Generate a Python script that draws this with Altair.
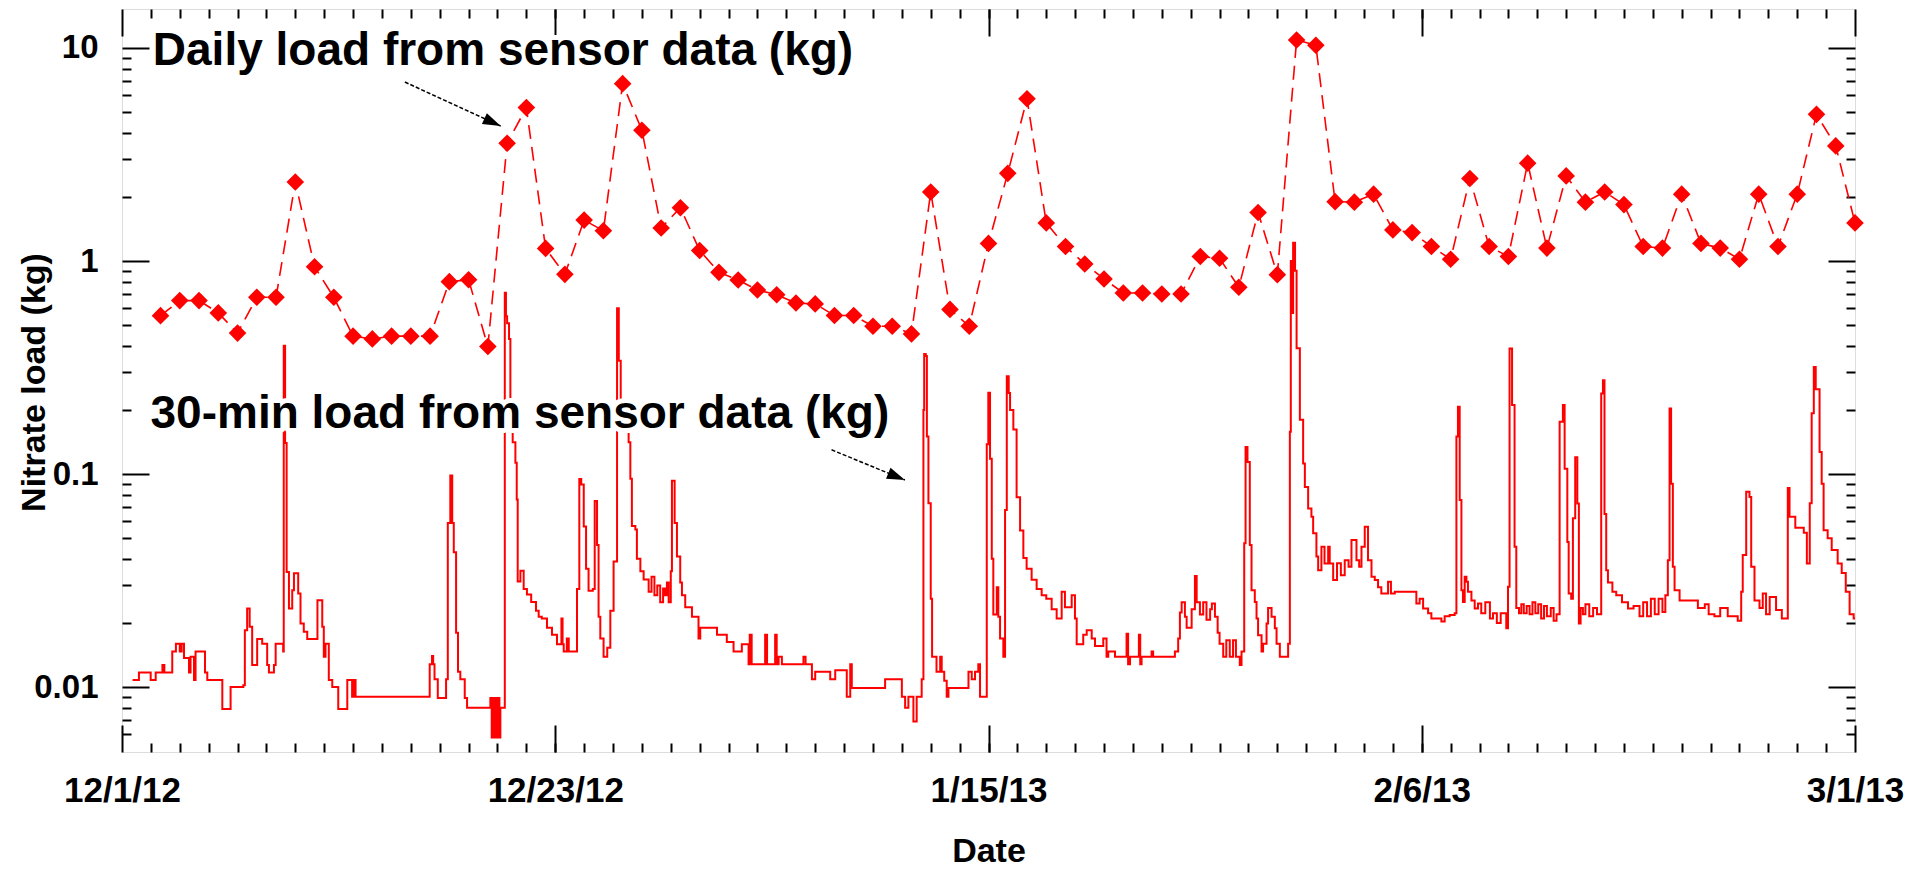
import math
import altair as alt
import pandas as pd

# ---------------- axis tick labels ----------------
x_tick_labels = ["12/1/12", "12/23/12", "1/15/13", "2/6/13", "3/1/13"]
x_tick_days = [0, 22.5, 45, 67.5, 90]          # days since 12/1/12
y_tick_labels = ["0.01", "0.1", "1", "10"]
y_tick_values = [0.01, 0.1, 1, 10]

# ---------------- daily load from sensor data (kg) ----------------
daily_day = list(range(2, 91))                 # days since 12/1/12 (12/3/12 ... 3/1/13)
daily_load = [
    0.554, 0.652, 0.652, 0.571, 0.459, 0.676, 0.676, 2.35, 0.94, 0.676,
    0.444, 0.431, 0.444, 0.444, 0.444, 0.80, 0.817, 0.397, 3.57, 5.25,
    1.146, 0.866, 1.556, 1.387, 6.80, 4.11, 1.43, 1.78, 1.12, 0.885,
    0.815, 0.731, 0.695, 0.635, 0.629, 0.555, 0.555, 0.494, 0.494, 0.455,
    2.11, 0.593, 0.494, 1.21, 2.58, 5.78, 1.51, 1.17, 0.968, 0.824,
    0.708, 0.708, 0.70, 0.70, 1.05, 1.03, 0.753, 1.69, 0.863, 10.9,
    10.3, 1.90, 1.89, 2.06, 1.40, 1.36, 1.17, 1.02, 2.44, 1.17,
    1.05, 2.88, 1.15, 2.51, 1.89, 2.11, 1.84, 1.17, 1.15, 2.06,
    1.21, 1.15, 1.02, 2.06, 1.17, 2.06, 4.88, 3.47, 1.51,
]

# ---------------- 30-min load from sensor data (kg) ----------------
halfhour_day = [
    0.55, 0.88, 1.49, 1.75, 2.10, 2.20, 2.61, 2.80, 3.00, 3.10, 3.22, 3.48, 3.56, 3.74, 3.82,
    4.31, 4.43, 5.21, 5.64, 6.30, 6.38, 6.50, 6.63, 6.76, 7.02, 7.28, 7.54, 7.63, 7.89, 7.98,
    8.37, 8.40, 8.47, 8.55, 8.67, 8.84, 8.93, 9.15, 9.27, 9.44, 9.62, 10.15, 10.40, 10.48, 10.57,
    10.74, 10.92, 11.23, 11.70, 11.95, 12.04, 12.13,
    15.98, 16.10, 16.16, 16.23, 16.40, 16.83, 16.92, 17.05, 17.15, 17.23, 17.35, 17.45, 17.57, 17.80,
    17.92, 19.13, 19.20, 19.27, 19.33, 19.40, 19.47, 19.55, 19.60, 19.65, 19.88, 19.94, 20.00, 20.10,
    20.17, 20.29, 20.43, 20.50, 20.55, 20.69, 20.86, 21.03, 21.25, 21.50, 21.64, 21.80, 22.07, 22.33,
    22.59, 22.82, 22.88, 22.94, 23.10, 23.20, 23.63, 23.75, 23.85, 23.98, 24.10, 24.23, 24.45, 24.55,
    24.67, 24.75, 24.84, 25.01, 25.20, 25.36, 25.53, 25.71, 25.80, 25.90, 26.31, 26.40, 26.48, 26.66,
    26.74, 26.92, 27.09, 27.35,
    27.50, 27.65, 27.80, 27.95, 28.10, 28.20, 28.30, 28.39, 28.50, 28.56, 28.70, 28.82, 28.99, 29.08,
    29.25, 29.60, 29.94, 30.03, 30.90, 31.41, 31.76, 32.19, 32.54, 32.60, 32.70, 33.40, 33.50, 33.92,
    34.00, 34.10, 34.27, 35.39, 35.50, 35.83, 36.00, 36.78, 37.04, 37.64, 37.82, 37.90, 39.63, 40.50,
    40.67, 40.84, 41.10, 41.27, 41.53, 41.62, 41.66, 41.74, 41.80, 41.88, 42.00,
    42.07, 42.30, 42.49, 42.57, 42.70, 42.83, 42.92, 43.96, 44.13, 44.30, 44.47, 44.56, 44.91, 44.99,
    45.08, 45.17, 45.25, 45.43, 45.51, 45.60, 45.77, 45.86, 45.95, 46.05, 46.12, 46.29, 46.46, 46.64,
    46.81, 46.98, 47.24, 47.50, 47.76, 48.00, 48.28, 48.54, 48.80, 48.97, 49.32, 49.49, 49.58, 49.92,
    50.10, 50.36, 50.53, 50.96, 51.13, 51.22, 51.57, 52.17, 52.25, 52.35, 52.81, 52.88, 52.95, 53.47,
    53.55, 54.68, 54.85, 54.94, 55.03, 55.20, 55.29, 55.55, 55.72, 55.81, 55.98, 56.15, 56.32,
    56.51, 56.60, 56.76, 56.90, 57.00, 57.19, 57.35, 57.53, 57.70, 57.85, 58.05, 58.14, 58.28, 58.35,
    58.45, 58.57, 58.66, 58.83, 58.92, 59.00, 59.18, 59.26, 59.44, 59.52, 59.70, 59.87, 59.96, 60.13,
    60.56, 60.65, 60.70, 60.76, 60.82, 60.92, 61.00, 61.17, 61.34, 61.43, 61.60, 61.77, 61.86, 62.03,
    62.12, 62.29, 62.45, 62.64, 62.72, 62.90, 63.10, 63.30, 63.50, 63.70, 63.85, 64.11, 64.25, 64.37,
    64.54, 64.71, 64.89, 65.06, 65.23, 65.40, 65.75, 65.90, 66.10, 67.22, 67.39, 67.57, 67.83, 68.00,
    68.52, 68.69, 68.95, 69.21, 69.30, 69.38, 69.47, 69.56, 69.64, 69.73, 69.82, 69.90, 70.08, 70.25,
    70.42, 70.59, 70.80,
    71.04, 71.20, 71.40, 71.60, 71.89, 71.98, 72.06, 72.19, 72.32, 72.41, 72.55, 72.67, 72.80, 72.95,
    73.10, 73.25, 73.40, 73.55, 73.70, 73.85, 74.00, 74.20, 74.35, 74.50, 74.66, 74.83, 74.92, 75.06,
    75.13, 75.26, 75.35, 75.47, 75.58, 75.66, 75.75, 75.87, 76.00, 76.20, 76.40, 76.60, 76.82, 76.91,
    76.99, 77.08, 77.17, 77.40, 77.60, 77.90, 78.21, 78.50, 78.81, 79.00, 79.20, 79.40, 79.60, 79.80,
    80.00, 80.15, 80.28, 80.37, 80.45, 80.54, 80.63, 80.89, 81.84, 82.20, 82.40, 82.70, 83.00, 83.39,
    83.91, 84.09, 84.17, 84.35, 84.52, 84.61, 84.78, 85.04, 85.21, 85.38, 85.57, 85.90, 86.20, 86.51,
    86.60, 86.90, 87.34, 87.50, 87.65, 87.75, 87.86, 87.96, 88.16, 88.27, 88.37, 88.58, 88.79, 89.10,
    89.31, 89.52, 89.72, 89.93, 90.00,
]
halfhour_load = [
    0.0108, 0.0117, 0.0108, 0.0117, 0.0127, 0.0117, 0.0147, 0.0160, 0.0147, 0.0160, 0.0137, 0.0117, 0.0139, 0.0108, 0.0147,
    0.0117, 0.0108, 0.0079, 0.0100, 0.0102, 0.0185, 0.0234, 0.0192, 0.0127, 0.0168, 0.0160, 0.0127, 0.0117, 0.0127, 0.0160,
    0.0147, 0.400, 0.140, 0.0347, 0.0234, 0.0285, 0.0342, 0.0275, 0.0199, 0.0182, 0.0168, 0.0256, 0.0192, 0.0139, 0.0160,
    0.0108, 0.0100, 0.0079, 0.0108, 0.0090, 0.0108, 0.0090,
    0.0128, 0.0140, 0.0128, 0.0109, 0.0089, 0.0109, 0.0589, 0.0986, 0.0589, 0.0430, 0.0180, 0.0118, 0.0109, 0.0089,
    0.0080, 0.0089, 0.0058, 0.0089, 0.0058, 0.0089, 0.0058, 0.0089, 0.0058, 0.0080, 0.710, 0.550, 0.510, 0.430,
    0.200, 0.141, 0.113, 0.076, 0.0313, 0.0352, 0.0289, 0.0272, 0.0251, 0.0228, 0.0214, 0.0210, 0.0190, 0.0176,
    0.0159, 0.0210, 0.0159, 0.0147, 0.0169, 0.0147, 0.0289, 0.0948, 0.0894, 0.0568, 0.0359, 0.0283, 0.0289, 0.0748,
    0.0465, 0.0214, 0.0169, 0.0139, 0.0153, 0.0228, 0.0389, 0.600, 0.340, 0.180, 0.141, 0.095, 0.057, 0.055,
    0.040, 0.035, 0.032, 0.028,
    0.033, 0.027, 0.030, 0.025, 0.029, 0.027, 0.031, 0.025, 0.035, 0.093, 0.059, 0.041, 0.031, 0.027,
    0.0237, 0.0214, 0.0169, 0.0190, 0.0176, 0.0163, 0.0147, 0.0159, 0.0128, 0.0176, 0.0128, 0.0176, 0.0128, 0.0176,
    0.0128, 0.0139, 0.0128, 0.0139, 0.0128, 0.0109, 0.0118, 0.0109, 0.0120, 0.0090, 0.0128, 0.0099, 0.0109, 0.0090,
    0.0080, 0.0090, 0.0069, 0.0090, 0.0109, 0.200, 0.366, 0.358, 0.150, 0.073, 0.026,
    0.0139, 0.0118, 0.0139, 0.0118, 0.0107, 0.0090, 0.0099, 0.0118, 0.0109, 0.0118, 0.0128, 0.0090, 0.138, 0.241,
    0.118, 0.040, 0.0219, 0.0294, 0.0214, 0.0169, 0.0139, 0.0678, 0.288, 0.240, 0.200, 0.162, 0.0778, 0.0544,
    0.0404, 0.0359, 0.0319, 0.0289, 0.0270, 0.0260, 0.0232, 0.0210, 0.0280, 0.0237, 0.0270, 0.0210, 0.0159, 0.0176,
    0.0185, 0.0169, 0.0156, 0.0169, 0.0139, 0.0147, 0.0139, 0.0178, 0.0128, 0.0139, 0.0176, 0.0128, 0.0139, 0.0147,
    0.0139, 0.0147, 0.0169, 0.0224, 0.0250, 0.0214, 0.0190, 0.0232, 0.0332, 0.0250, 0.0219, 0.0250, 0.0207,
    0.0232, 0.0247, 0.0214, 0.0180, 0.0160, 0.0139, 0.0166, 0.0139, 0.0166, 0.0139, 0.0127, 0.0147, 0.0473, 0.134,
    0.114, 0.0464, 0.0285, 0.0251, 0.0210, 0.0175, 0.0147, 0.0160, 0.0199, 0.0235, 0.0214, 0.0189, 0.0160, 0.0139,
    0.0160, 0.158, 1.00, 0.570, 1.22, 0.900, 0.390, 0.180, 0.112, 0.087, 0.069, 0.063, 0.0527, 0.0410,
    0.0354, 0.0456, 0.0380, 0.0456, 0.0380, 0.0318, 0.0381, 0.0335, 0.0394, 0.0367, 0.0490, 0.0394, 0.0367, 0.0456,
    0.0566, 0.0394, 0.0330, 0.0318, 0.0294, 0.0275, 0.0312, 0.0275, 0.0280, 0.0247, 0.0260, 0.0234, 0.0222, 0.0210,
    0.0203, 0.0215, 0.0218, 0.0222, 0.150, 0.207, 0.0755, 0.0285, 0.0251, 0.0330, 0.0312, 0.0280, 0.0255, 0.0234,
    0.0247, 0.0222, 0.0250,
    0.0210, 0.0222, 0.0200, 0.0222, 0.0189, 0.0296, 0.389, 0.211, 0.0456, 0.0235, 0.0222, 0.0245, 0.0222, 0.0240,
    0.0220, 0.0250, 0.0222, 0.0245, 0.0210, 0.0240, 0.0215, 0.0235, 0.0205, 0.0220, 0.176, 0.211, 0.106, 0.048,
    0.0275, 0.0260, 0.062, 0.120, 0.0728, 0.0199, 0.0235, 0.0220, 0.0245, 0.0215, 0.0235, 0.0220, 0.239, 0.276,
    0.065, 0.0354, 0.0310, 0.0280, 0.0270, 0.0250, 0.0234, 0.0240, 0.0215, 0.0250, 0.0215, 0.0260, 0.0220, 0.0260,
    0.0225, 0.0270, 0.0394, 0.203, 0.090, 0.0367, 0.0285, 0.0255, 0.0235, 0.0245, 0.0220, 0.0215, 0.0235, 0.0215,
    0.0205, 0.0280, 0.0417, 0.0826, 0.0780, 0.0367, 0.0255, 0.0235, 0.0275, 0.0220, 0.0265, 0.0230, 0.0210, 0.086,
    0.063, 0.056, 0.053, 0.038, 0.073, 0.193, 0.318, 0.250, 0.127, 0.090, 0.0545, 0.0500, 0.0440, 0.0380,
    0.0343, 0.0280, 0.0220, 0.0210, 0.0210,
]

# ---------------- annotations (anchored in data units) ----------------
ann_text = ["Daily load from sensor data (kg)", "30-min load from sensor data (kg)"]
ann_day = [1.6, 1.48]
ann_load = [8.3, 0.164]
arrow_day0 = [14.69, 36.85]
arrow_load0 = [6.92, 0.130]
arrow_day1 = [19.67, 40.66]
arrow_load1 = [4.30, 0.0938]

# ---------------- layout / style ----------------
W, H = 1733, 743
X_DOMAIN = [0, 90]
Y_DOMAIN = [0.00496, 15.24]
FONT = "Liberation Sans"
RED = "#ff0000"
MAJOR, MINOR = 27, 9

x_scale = alt.Scale(domain=X_DOMAIN, nice=False, zero=False)
y_scale = alt.Scale(type="log", domain=Y_DOMAIN, nice=False)

x_minor = [i * 1.5 for i in range(1, 60)]
y_minor = [k * 10.0 ** e for e in range(-3, 2) for k in range(2, 10)
           if Y_DOMAIN[0] * 1.05 < k * 10.0 ** e < Y_DOMAIN[1]]


def label_chain(values, labels, geometric=False):
    expr = repr(labels[-1])
    for i in range(len(values) - 2, -1, -1):
        thr = math.sqrt(values[i] * values[i + 1]) if geometric else (values[i] + values[i + 1]) / 2
        expr = f"datum.value < {thr} ? {labels[i]!r} : ({expr})"
    return expr


tick_style = dict(domain=False, grid=False, tickColor="black", tickWidth=2)
title_style = dict(titleFont=FONT, titleFontSize=34, titleFontWeight="bold", titleColor="black")

x_axis_main = alt.Axis(orient="bottom", values=x_tick_days, tickSize=MAJOR, offset=-MAJOR,
                       labelExpr=label_chain(x_tick_days, x_tick_labels), labelPadding=21,
                       labelFont=FONT, labelFontSize=35, labelFontWeight="bold", labelColor="black",
                       labelFlush=False, labelOverlap=False, title="Date",
                       titleX=W / 2, titleY=136, titleBaseline="alphabetic", titleAlign="center",
                       **tick_style, **title_style)
y_axis_main = alt.Axis(orient="left", values=y_tick_values, tickSize=MAJOR, offset=-MAJOR,
                       labelExpr=label_chain(y_tick_values, y_tick_labels, geometric=True),
                       labelFont=FONT, labelFontSize=33, labelFontWeight="bold", labelColor="black",
                       labelPadding=24, labelOverlap=False, title="Nitrate load (kg)",
                       titleX=-115, titleY=373, titleBaseline="middle", titleAlign="center",
                       titleAngle=270, **tick_style, **title_style)


def tick_axis(orient, values, size):
    return alt.Axis(orient=orient, values=values, tickSize=size, offset=-size,
                    labels=False, title=None, **tick_style)


daily_df = pd.DataFrame({"day": daily_day, "load": daily_load})
half_df = pd.DataFrame({"day": halfhour_day, "load": halfhour_load})
ann_df = pd.DataFrame({"text": ann_text, "day": ann_day, "load": ann_load})

px_day = W / (X_DOMAIN[1] - X_DOMAIN[0])
px_dec = H / (math.log10(Y_DOMAIN[1]) - math.log10(Y_DOMAIN[0]))
arrow_angle = [
    math.degrees(math.atan2((math.log10(l0) - math.log10(l1)) * px_dec, (d1 - d0) * px_day))
    for d0, l0, d1, l1 in zip(arrow_day0, arrow_load0, arrow_day1, arrow_load1)
]
arrow_df = pd.DataFrame({"day0": arrow_day0, "load0": arrow_load0, "day1": arrow_day1,
                         "load1": arrow_load1, "angle": arrow_angle})


def X(field, axis=None):
    return alt.X(f"{field}:Q", scale=x_scale, axis=axis)


def Y(field, axis=None):
    return alt.Y(f"{field}:Q", scale=y_scale, axis=axis)


line30 = alt.Chart(half_df).mark_line(color=RED, strokeWidth=2, interpolate="step-after").encode(
    x=X("day", x_axis_main), y=Y("load", y_axis_main))

daily_line = alt.Chart(daily_df).mark_line(color=RED, strokeWidth=1.6, strokeDash=[14, 8]).encode(
    x=X("day"), y=Y("load"))

diamonds = alt.Chart(daily_df).mark_point(shape="diamond", filled=True, size=310, color=RED,
                                          opacity=1, strokeWidth=0).encode(x=X("day"), y=Y("load"))

halo = alt.Chart(ann_df).mark_text(align="left", baseline="alphabetic", font=FONT, fontSize=46,
                                   fontWeight="bold", fill="white", stroke="white", strokeWidth=10,
                                   strokeJoin="round").encode(x=X("day"), y=Y("load"), text="text:N")
labels = alt.Chart(ann_df).mark_text(align="left", baseline="alphabetic", font=FONT, fontSize=46,
                                     fontWeight="bold", fill="black").encode(
    x=X("day"), y=Y("load"), text="text:N")

arrow_lines = alt.Chart(arrow_df).mark_rule(color="black", strokeWidth=1.5, strokeDash=[4, 2]).encode(
    x=X("day0"), y=Y("load0"), x2="day1:Q", y2="load1:Q")
arrow_heads = alt.Chart(arrow_df).mark_point(shape="M0,0L-1,-0.33L-1,0.33Z", filled=True, size=1296,
                                             color="black", opacity=1, strokeWidth=0).encode(
    x=X("day1"), y=Y("load1"), angle=alt.Angle("angle:Q", scale=None))

ghost = alt.Chart(daily_df).mark_point(opacity=0)
minor_bl = ghost.encode(x=X("day", tick_axis("bottom", x_minor, MINOR)),
                        y=Y("load", tick_axis("left", y_minor, MINOR)))
major_tr = ghost.encode(x=X("day", tick_axis("top", x_tick_days, MAJOR)),
                        y=Y("load", tick_axis("right", y_tick_values, MAJOR)))
minor_tr = ghost.encode(x=X("day", tick_axis("top", x_minor, MINOR)),
                        y=Y("load", tick_axis("right", y_minor, MINOR)))

chart = alt.layer(
    line30, daily_line, diamonds, halo, labels, arrow_lines, arrow_heads,
    minor_bl, major_tr, minor_tr,
).resolve_axis(x="independent", y="independent").properties(
    width=W, height=H,
    padding={"left": 114, "top": 1, "right": 64, "bottom": 120},
    autosize=alt.AutoSizeParams(type="none"),
).configure_view(stroke="black", strokeWidth=2).configure(background="white")

chart.save("out.html", embed_options={"renderer": "svg", "actions": False})
